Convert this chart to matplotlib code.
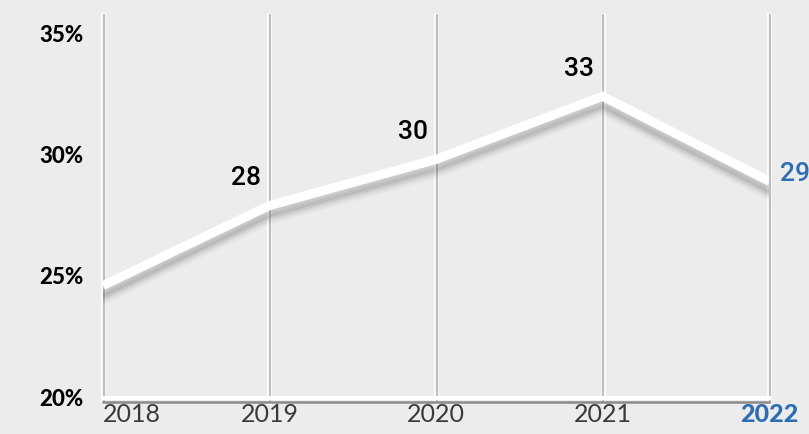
import matplotlib
matplotlib.use("Agg")
import matplotlib.pyplot as plt

# Data
years = [2018, 2019, 2020, 2021, 2022]
share = [24.6, 27.9, 29.8, 32.4, 28.9]
point_labels = ["", "28", "30", "33", "29"]
y_ticks = [20, 25, 30, 35]
y_tick_labels = ["20%", "25%", "30%", "35%"]

BG = "#ececec"
BLUE = "#2e6db4"
GRID = "#bdbdbd"

fig = plt.figure(figsize=(8.09, 4.34), dpi=100, facecolor=BG)
ax = fig.add_axes([0.1273, 0.0737, 0.8233, 0.8917])
ax.set_facecolor(BG)
ax.set_xlim(years[0], years[-1])
ax.set_ylim(19.8, 35.75)

for s in ax.spines.values():
    s.set_visible(False)

# vertical grid lines with a light highlight on the left
for yr in years:
    ax.axvline(yr, color="white", lw=3.5, zorder=1, clip_on=False)
    ax.axvline(yr + 0.004, color=GRID, lw=1.6, zorder=1.1, clip_on=False)

# bottom axis line
ax.axhline(19.95, color="white", lw=3, zorder=1.2, clip_on=False)
ax.axhline(19.8, color="#8a8a8a", lw=1.8, zorder=1.3, clip_on=False)

# soft shadow under the line
for off, alpha in [(0.6, 0.05), (0.5, 0.08), (0.4, 0.11), (0.3, 0.14)]:
    ax.plot(years, [v - off for v in share], color="#555555", lw=6,
            alpha=alpha, solid_joinstyle="miter", zorder=2)
ax.plot(years, share, color="white", lw=6.5, solid_joinstyle="miter",
        solid_capstyle="butt", zorder=3)

# point labels
for x, v, lab in zip(years, share, point_labels):
    if not lab:
        continue
    if x == years[-1]:
        ax.annotate(lab, (x, v), xytext=(8, 5), textcoords="offset points",
                    ha="left", va="center", fontsize=19, color=BLUE,
                    family="Roboto", fontweight="medium", annotation_clip=False)
    else:
        ax.annotate(lab, (x, v), xytext=(-6, 11), textcoords="offset points",
                    ha="right", va="bottom", fontsize=19, color="black",
                    family="Roboto", fontweight="medium")

ax.set_yticks(y_ticks)
ax.set_yticklabels(y_tick_labels, family="Lato", fontweight="black",
                   fontsize=16, color="black")
ax.set_xticks(years)
ax.set_xticklabels([str(y) for y in years], family="Lato",
                   fontweight="normal", fontsize=18, color="#3a3a3a")
ax.tick_params(axis="y", length=0, pad=14)
ax.tick_params(axis="x", length=0, pad=1)

xl = ax.get_xticklabels()
xl[0].set_ha("left")
xl[-1].set_color(BLUE)
xl[-1].set_fontweight("black")

fig.savefig("out.png", dpi=100, facecolor=BG)
